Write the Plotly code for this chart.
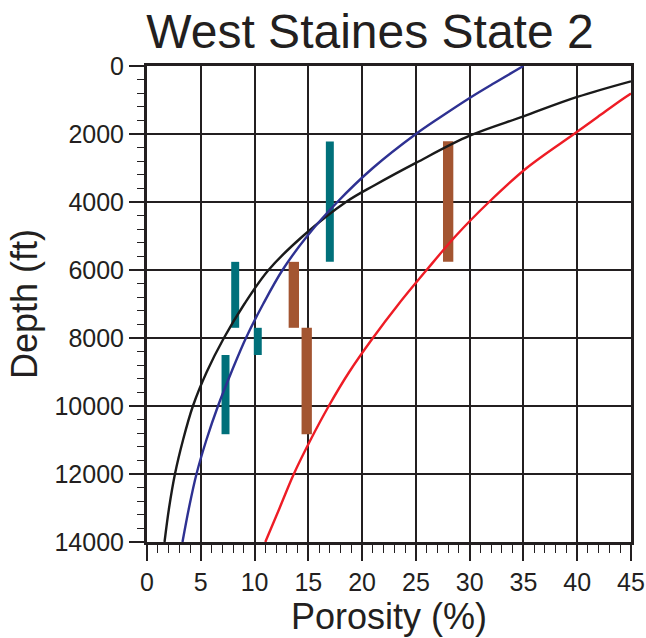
import plotly.graph_objects as go

# Compaction curves (depth in ft, porosity in %)
black_depth = [450, 910, 1480, 2050, 2850, 3500, 4000, 5000, 6000, 7000, 8000,
               9000, 10000, 11000, 12000, 13000, 14000]
black_por = [45, 40, 35, 30, 25, 21.2, 18.5, 14.5, 11.3, 9.05, 7.15,
             5.55, 4.27, 3.35, 2.6, 2.05, 1.63]

blue_depth = [0, 500, 940, 1500, 2000, 3000, 4000, 5000, 6000, 7000, 8000,
              9000, 10000, 11000, 12000, 13000, 14000]
blue_por = [35, 32.3, 30, 27.3, 25, 21.0, 17.7, 14.9, 12.6, 10.8, 9.2,
            7.85, 6.6, 5.52, 4.6, 3.9, 3.3]

red_depth = [810, 1000, 1500, 2000, 3000, 4000, 5000, 6000, 7000, 8000, 9000,
             10000, 11000, 12000, 13000, 14000]
red_por = [45, 44.1, 41.9, 39.7, 35.3, 31.8, 28.7, 26.0, 23.4, 21.0, 18.8,
           16.9, 15.2, 13.65, 12.33, 11.0]

# Measured porosity ranges (vertical bars)
teal_por = [17.0, 8.2, 10.3, 7.3]
teal_top = [2220, 5760, 7700, 8500]
teal_base = [5760, 7700, 8500, 10830]

brown_por = [13.65, 14.85, 28.0]
brown_top = [5760, 7700, 2210]
brown_base = [7700, 10830, 5760]

x_ticks = [0, 5, 10, 15, 20, 25, 30, 35, 40, 45]
y_ticks = [0, 2000, 4000, 6000, 8000, 10000, 12000, 14000]

INK = "#231f20"
FONT = "Liberation Sans, Arial, Helvetica, sans-serif"

fig = go.Figure()

fig.add_trace(go.Bar(
    x=teal_por, y=[b - t for t, b in zip(teal_top, teal_base)], base=teal_top,
    width=0.74, marker=dict(color="#00707a", line=dict(width=0)), showlegend=False))
fig.add_trace(go.Bar(
    x=brown_por, y=[b - t for t, b in zip(brown_top, brown_base)], base=brown_top,
    width=0.96, marker=dict(color="#a35531", line=dict(width=0)), showlegend=False))

for xs, ys, col in [(black_por, black_depth, "#1a1a1a"),
                    (blue_por, blue_depth, "#2e3192"),
                    (red_por, red_depth, "#ee1c25")]:
    fig.add_trace(go.Scatter(x=xs, y=ys, mode="lines",
                             line=dict(color=col, width=2.4, shape="spline",
                                       smoothing=1.0, simplify=False),
                             showlegend=False))

fig.update_layout(
    width=646, height=638,
    margin=dict(l=147, r=15, t=66, b=96),
    paper_bgcolor="white", plot_bgcolor="white",
    barmode="overlay",
    font=dict(family=FONT, color=INK, size=25),
    title=dict(text="West Staines State 2", x=370 / 646, xanchor="center",
               y=1 - 31 / 638, yanchor="middle", xref="container", yref="container",
               font=dict(size=48, color=INK, family=FONT)),
)

fig.update_xaxes(
    range=[0, 45], tickvals=x_ticks, ticktext=[str(v) for v in x_ticks],
    ticks="outside", ticklen=16, tickwidth=2, tickcolor=INK,
    showgrid=True, gridcolor=INK, gridwidth=1.6,
    showline=True, linecolor=INK, linewidth=3, mirror=True,
    zeroline=False, automargin=False,
    minor=dict(dtick=1, ticks="outside", ticklen=8, tickwidth=1.2, tickcolor=INK, showgrid=False),
    title=dict(text="Porosity (%)", font=dict(size=36, color=INK), standoff=4),
    tickfont=dict(size=25, color=INK),
)
fig.update_yaxes(
    range=[14000, 0], tickvals=y_ticks, ticktext=[str(v) for v in y_ticks],
    ticks="outside", ticklen=15, tickwidth=2, tickcolor=INK,
    showgrid=True, gridcolor=INK, gridwidth=1.6,
    showline=True, linecolor=INK, linewidth=3, mirror=True,
    zeroline=False, automargin=False,
    minor=dict(dtick=400, ticks="outside", ticklen=7, tickwidth=1.2, tickcolor=INK, showgrid=False),
    title=dict(text="Depth (ft)", font=dict(size=36, color=INK), standoff=6),
    tickfont=dict(size=25, color=INK),
)

fig.write_html("out.html")
